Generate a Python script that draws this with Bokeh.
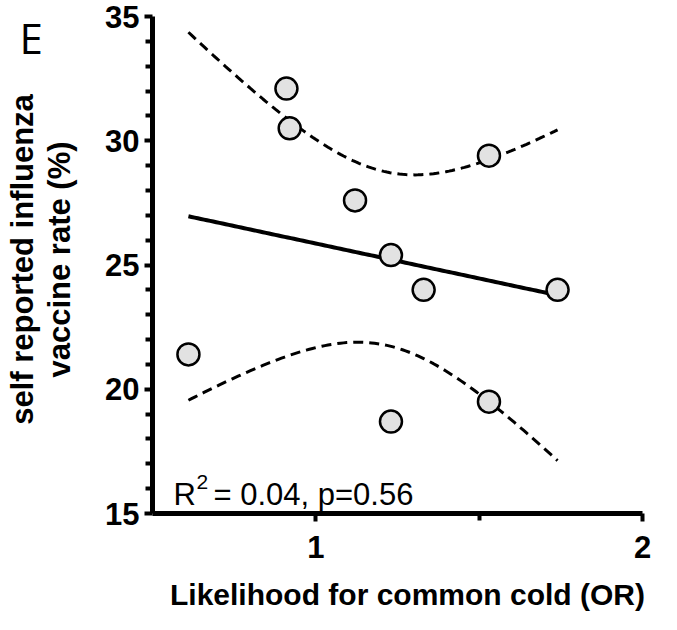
import numpy as np
from bokeh.plotting import figure
from bokeh.models import Range1d, FixedTicker, Label
from bokeh.embed import file_html
from bokeh.resources import INLINE

# ---- data ----
odds_ratio = [0.61, 0.91, 0.92, 1.12, 1.23, 1.33, 1.74, 1.23, 1.53, 1.53]
vaccine_rate = [21.4, 32.1, 30.5, 27.6, 25.4, 24.0, 24.0, 18.7, 19.5, 29.4]
x_major_ticks = [1, 2]
x_minor_ticks = [1.5]
y_major_ticks = [15, 20, 25, 30, 35]
y_minor_ticks = [v for v in range(16, 35) if v % 5 != 0]
panel_letter = "E"
r2_text = "0.04"
p_text = "0.56"
x_title = "Likelihood for common cold (OR)"
y_title_1 = "self reported influenza"
y_title_2 = "vaccine rate (%)"

# ---- linear fit with 95% confidence band ----
x = np.array(odds_ratio)
y = np.array(vaccine_rate)
n = len(x)
slope, intercept = np.polyfit(x, y, 1)
mx = x.mean()
sxx = ((x - mx) ** 2).sum()
resid = y - (slope * x + intercept)
s = np.sqrt((resid ** 2).sum() / (n - 2))
t_crit = 2.306  # t(0.975, df=8)
xs = np.linspace(x.min(), x.max(), 120)
fit = slope * xs + intercept
half = t_crit * s * np.sqrt(1.0 / n + (xs - mx) ** 2 / sxx)

FONT = "Liberation Sans"
W, H = 661, 614
# plot-area placement inside the canvas (pixels)
left_px, right_px, top_px, bottom_px = 152, 642, 16, 513
x0, x1, y0, y1 = 0.5, 2.0, 15.0, 35.0
kx = (right_px - left_px) / (x1 - x0)
ky = (bottom_px - top_px) / (y1 - y0)
xr = Range1d(x0 - left_px / kx, x1 + (W - right_px) / kx)
yr = Range1d(y0 - (H - bottom_px) / ky, y1 + top_px / ky)

p = figure(width=W, height=H, output_backend="svg", toolbar_location=None,
           x_range=xr, y_range=yr, min_border=0)
p.outline_line_color = None
p.grid.visible = False
p.background_fill_color = "white"
p.border_fill_color = "white"

# CI band lines
p.line(xs, fit + half, line_color="black", line_width=3, line_dash="10 6")
p.line(xs, fit - half, line_color="black", line_width=3, line_dash="10 6")
# regression line
p.line(xs, fit, line_color="black", line_width=4)
# points
p.scatter(odds_ratio, vaccine_rate, size=22, fill_color="#e2e2e2",
          line_color="black", line_width=2.5)

for ax in (p.xaxis[0], p.yaxis[0]):
    ax.axis_line_width = 5
    ax.axis_line_color = "black"
    ax.major_tick_line_width = 4
    ax.minor_tick_line_width = 4
    ax.major_tick_in = 0
    ax.minor_tick_in = 0
    ax.major_tick_out = 8
    ax.minor_tick_out = 7
    ax.major_label_text_font = FONT
    ax.major_label_text_font_style = "bold"
    ax.major_label_text_font_size = "31px"
    ax.major_label_text_color = "black"

p.xaxis.fixed_location = y0
p.yaxis.fixed_location = x0
p.xaxis.bounds = (x0, x1)
p.yaxis.bounds = (y0, y1)
p.xaxis.ticker = FixedTicker(ticks=x_major_ticks, minor_ticks=x_minor_ticks)
p.yaxis.ticker = FixedTicker(ticks=y_major_ticks, minor_ticks=y_minor_ticks)
p.xaxis.major_label_standoff = 14
p.yaxis.major_label_standoff = 5


def px_to_x(px):
    return xr.start + px / kx


def px_to_y(py):
    return yr.end - py / ky


# x title
p.add_layout(Label(x=px_to_x(407), y=px_to_y(594), text=x_title,
                   text_align="center", text_baseline="middle",
                   text_font=FONT, text_font_style="bold",
                   text_font_size="30px", text_color="black"))

# y title as two rotated lines
for txt, cx in ((y_title_1, 22), (y_title_2, 59)):
    p.add_layout(Label(x=px_to_x(cx), y=px_to_y(259), text=txt, angle=np.pi / 2,
                       text_align="center", text_baseline="middle",
                       text_font=FONT, text_font_style="bold",
                       text_font_size="31px", text_color="black"))

# panel letter
p.add_layout(Label(x=px_to_x(19), y=px_to_y(37), text=panel_letter, text_align="left",
                   text_baseline="middle", text_font="Open Sans",
                   text_font_size="42px", text_color="black"))

# statistics text with superscript
sx0, sy0 = px_to_x(173), px_to_y(494)
p.add_layout(Label(x=sx0, y=sy0, text="R", text_font=FONT, text_font_size="31px",
                   text_baseline="alphabetic", text_color="black"))
p.add_layout(Label(x=sx0, y=sy0, x_offset=23, y_offset=13, text="2", text_font=FONT,
                   text_font_size="21px", text_baseline="alphabetic", text_color="black"))
p.add_layout(Label(x=sx0, y=sy0, x_offset=40, text="= " + r2_text + ", p=" + p_text,
                   text_font=FONT, text_font_size="31px",
                   text_baseline="alphabetic", text_color="black"))

open("out.html", "w").write(file_html(p, INLINE))
